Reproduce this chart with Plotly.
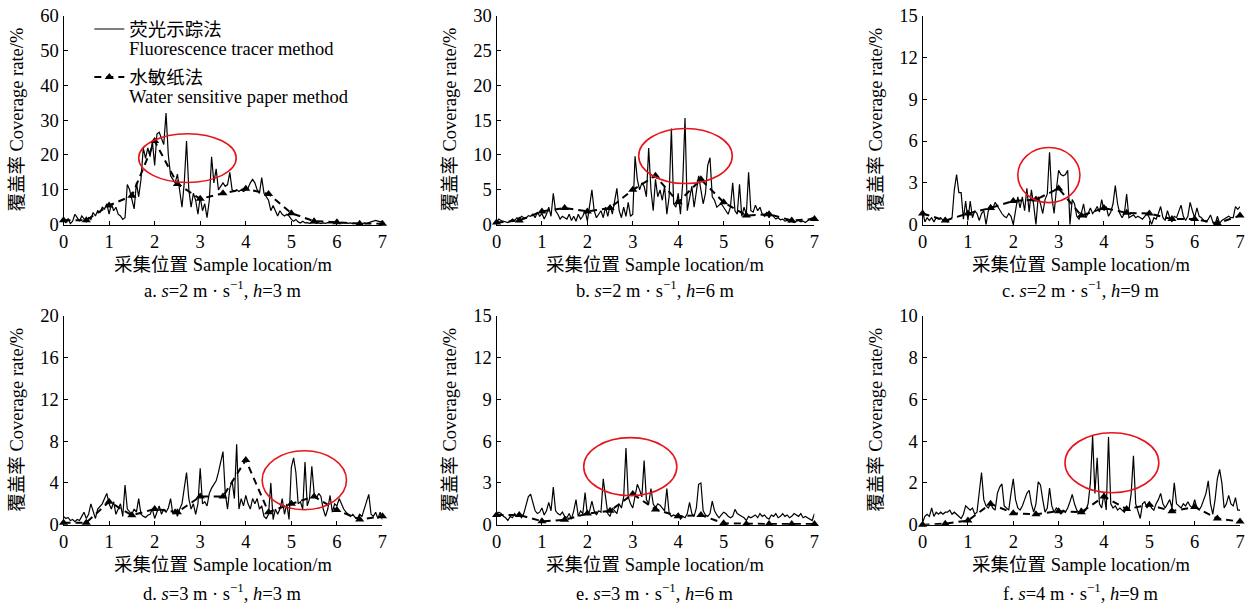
import numpy as np
import plotly.graph_objects as go

# ---------------- data ----------------
# fluorescence tracer sampling positions (every 0.05 m) and WSP positions (every 0.5 m)
loc_fluor = np.round(np.arange(0, 7.0001, 0.05), 2)
loc_wsp = [0, 0.5, 1.0, 1.5, 2.0, 2.5, 3.0, 3.5, 4.0, 4.5, 5.0, 5.5, 6.0, 6.5, 7.0]

fluor_a = [1.5, 0.5, 1.8, 0.3, 1.0, 3.0, 2.0, 1.0, 2.5, 1.5, 0.8, 2.0, 1.5, 3.5, 2.5, 4.0, 3.5, 5.0, 4.5, 6.0,
           3.0, 6.0, 4.0, 5.0, 3.0, 2.5, 1.5, 2.0, 11.5, 10.0, 7.0, 4.5, 12.0, 8.0, 13.0, 22.0, 19.0, 22.0, 19.5, 24.0,
           17.0, 26.0, 26.5, 25.0, 23.0, 32.0, 20.0, 14.0, 13.0, 12.0, 14.5, 10.0, 5.0, 12.0, 24.0, 10.0, 5.0, 9.0, 7.0, 3.0,
           8.0, 4.0, 6.0, 2.0, 7.0, 19.5, 12.0, 16.0, 10.0, 11.0, 12.0, 11.0, 11.5, 15.0, 10.0, 9.5, 10.0, 9.5, 10.0, 9.5,
           10.0, 10.5, 12.0, 13.0, 12.0, 10.0, 9.0, 13.5, 9.0, 8.0, 7.0, 4.0, 5.5, 4.0, 2.5, 4.0, 3.0, 2.5, 3.0, 2.5,
           1.5, 1.0, 1.5, 0.8, 0.5, 1.0, 0.5, 0.6, 0.4, 0.5, 0.6, 0.4, 0.5, 0.3, 0.5, 0.4, 0.6, 0.5, 0.4, 0.5,
           0.6, 0.5, 0.4, 0.5, 0.6, 0.4, 0.5, 0.3, 0.4, 0.5, 0.4, 0.3, 0.5, 0.4, 0.6, 0.8, 1.0, 1.2, 1.0, 0.8,
           1.0]
wsp_a = [1.3, 1.3, 5.5, 8.3, 24.0, 11.7, 7.4, 9.0, 10.3, 8.8, 3.3, 1.0, 0.7, 0.3, 0.3]

fluor_b = [0.3, 0.8, 0.6, 0.5, 0.4, 0.3, 0.5, 0.8, 0.6, 1.0, 0.8, 1.2, 1.0, 0.9, 1.3, 1.2, 1.5, 1.0, 1.8, 1.2,
           1.6, 0.8, 1.5, 2.5, 1.2, 4.5, 2.0, 1.5, 0.8, 1.2, 1.0, 0.8, 1.5, 0.6, 1.2, 0.5, 1.5, 0.8, 1.2, 2.0,
           0.5, 2.5, 5.0, 2.0, 1.0, 1.5, 2.0, 1.0, 2.5, 1.2, 2.8, 1.5, 3.5, 5.2, 2.0, 1.0, 2.5, 1.2, 3.2, 1.2,
           1.5, 9.8, 6.5, 5.0, 6.0, 5.5, 4.0, 11.0, 5.0, 2.0, 6.5, 4.0, 5.0, 3.5, 5.5, 1.5, 4.0, 13.8, 3.0, 2.5,
           4.5, 1.5, 6.0, 15.3, 2.0, 4.0, 5.5, 2.5, 4.5, 7.0, 5.0, 3.0, 4.5, 8.5, 9.6, 4.0, 3.5, 2.5, 2.8, 3.0,
           2.5, 2.0, 1.5, 2.5, 6.0, 2.0, 1.5, 5.8, 1.2, 2.5, 1.5, 7.5, 2.0, 1.8, 2.8, 2.0, 2.5, 1.5, 1.2, 1.8,
           1.0, 1.5, 1.2, 0.8, 1.0, 0.7, 0.8, 0.5, 0.6, 0.4, 0.5, 0.3, 0.5, 0.6, 0.4, 0.5, 0.3, 0.6, 0.8, 1.0,
           0.5]
wsp_b = [0.3, 0.6, 1.9, 2.4, 1.9, 2.4, 5.0, 7.0, 3.2, 6.5, 3.2, 1.3, 1.5, 0.6, 0.8]

fluor_c = [1.0, 0.2, 0.5, 0.3, 0.5, 0.2, 0.5, 0.4, 0.5, 0.3, 0.5, 0.2, 0.4, 0.5, 2.5, 3.6, 2.3, 2.3, 0.4, 1.7,
           0.3, 1.7, 0.5, 1.0, 0.8, 0.3, 0.8, 1.0, 0.0, 1.0, 1.4, 1.2, 1.6, 1.3, 1.0, 0.8, 0.6, 0.5, 0.8, 0.6,
           0.0, 1.0, 2.0, 1.2, 2.0, 1.0, 2.6, 0.9, 2.5, 1.4, 0.0, 2.0, 1.5, 0.8, 1.8, 2.2, 5.2, 2.0, 0.8, 2.5,
           3.9, 3.6, 3.5, 3.6, 3.9, 0.0, 1.8, 1.5, 0.6, 0.4, 0.8, 1.5, 0.5, 0.8, 1.2, 0.8, 1.0, 1.3, 0.9, 1.8,
           1.0, 1.3, 0.6, 0.9, 1.5, 2.8, 1.5, 0.8, 0.5, 0.8, 2.2, 0.5, 0.6, 0.7, 0.5, 0.6, 0.5, 0.4, 0.6, 0.8,
           0.5, 0.0, 0.5, 0.4, 0.8, 1.3, 0.5, 0.3, 1.0, 0.5, 0.2, 0.6, 0.5, 0.9, 1.4, 0.6, 0.3, 0.6, 1.6, 1.0,
           0.5, 1.2, 0.6, 0.5, 0.3, 0.2, 0.4, 0.7, 0.2, 0.0, 0.6, 0.1, 0.3, 0.4, 0.5, 0.6, 0.5, 0.5, 1.3, 1.1,
           1.3]
wsp_c = [0.8, 0.3, 0.8, 1.2, 1.7, 1.8, 2.6, 0.65, 1.2, 0.85, 0.8, 0.4, 0.4, 0.1, 0.65]

fluor_d = [0.8, 0.6, 0.7, 0.4, 0.5, 0.3, 0.5, 0.4, 0.8, 1.2, 0.6, 1.0, 2.0, 1.2, 0.6, 1.5, 1.8, 2.0, 2.5, 3.0,
           2.0, 1.5, 2.2, 1.0, 1.5, 2.0, 0.8, 3.8, 1.5, 1.2, 1.0, 1.5, 1.2, 2.5, 1.0, 0.8, 0.7, 0.9, 1.0, 1.5,
           0.6, 1.2, 1.8, 1.0, 1.5, 1.2, 1.6, 2.5, 1.0, 1.5, 0.8, 1.5, 2.0, 3.5, 5.0, 2.5, 1.5, 2.0, 1.0, 2.0,
           5.4, 2.0, 2.2, 1.8, 3.0, 3.5, 3.8, 4.2, 5.0, 6.2, 7.0, 3.0, 1.5, 3.5, 4.2, 2.5, 7.7, 1.5, 2.5, 1.8,
           2.8, 2.0, 1.5, 2.5, 2.0, 2.5, 1.5, 1.8, 0.8, 0.6, 1.0, 4.0, 0.5, 1.5, 1.0, 1.5, 2.5, 1.0, 2.0, 0.5,
           5.5, 6.4, 5.0, 2.0, 2.2, 1.5, 6.0, 1.8, 2.5, 5.6, 3.0, 2.5, 3.0, 2.7, 1.5, 0.8, 1.5, 2.8, 1.2, 2.0,
           1.8, 2.5, 2.0, 1.5, 1.2, 1.0, 0.8, 1.0, 0.7, 0.6, 1.0, 0.8, 1.5, 2.0, 2.9, 1.0, 0.8, 1.2, 0.6, 1.2,
           0.5]
wsp_d = [0.2, 0.2, 2.2, 0.9, 1.5, 1.2, 2.7, 2.7, 6.2, 1.2, 2.0, 2.7, 1.4, 0.5, 0.8]

fluor_e = [0.7, 0.9, 0.8, 0.6, 0.5, 0.3, 0.6, 0.5, 0.8, 0.6, 0.7, 0.5, 0.8, 1.5, 2.0, 2.2, 1.5, 1.0, 0.8, 0.9,
           1.2, 0.7, 1.0, 1.6, 1.0, 2.7, 1.0, 0.8, 0.7, 0.9, 0.6, 0.5, 0.8, 0.4, 1.0, 1.8, 0.6, 1.0, 0.8, 2.3,
           0.7, 1.0, 1.7, 1.0, 0.7, 1.0, 0.9, 3.3, 2.0, 0.8, 0.6, 1.2, 1.0, 0.8, 1.5, 1.2, 2.0, 5.5, 2.0, 1.5,
           1.2, 2.2, 2.9, 2.5, 2.0, 4.6, 1.8, 1.5, 2.6, 1.5, 1.2, 1.5, 1.4, 1.2, 1.0, 2.6, 0.8, 0.6, 0.7, 0.6,
           0.8, 0.4, 0.6, 0.5, 0.8, 1.6, 0.8, 0.6, 1.2, 2.9, 3.0, 1.0, 0.7, 0.6, 0.8, 1.7, 1.0, 0.7, 0.5, 0.7,
           0.9, 0.8, 0.6, 0.5, 0.6, 1.1, 0.8, 0.7, 0.6, 0.5, 0.3, 0.6, 0.5, 0.6, 0.7, 0.5, 0.8, 0.6, 0.7, 0.5,
           0.4, 0.7, 0.6, 0.8, 0.5, 0.6, 0.8, 0.6, 0.7, 0.5, 0.6, 0.8, 0.7, 0.6, 0.8, 0.5, 0.6, 0.5, 0.4, 0.3,
           0.8]
wsp_e = [0.7, 0.7, 0.25, 0.35, 0.8, 1.0, 2.2, 1.1, 0.6, 0.7, 0.1, 0.05, 0.05, 0.05, 0.05]

fluor_f = [0.1, 0.4, 0.5, 0.4, 0.8, 0.4, 0.6, 0.5, 0.6, 0.5, 0.6, 0.6, 0.7, 0.5, 0.6, 0.5, 0.4, 0.3, 0.5, 0.9,
           0.8, 0.7, 0.8, 0.5, 0.6, 1.5, 2.5, 1.2, 0.9, 0.8, 1.0, 0.8, 0.7, 1.5, 1.8, 1.95, 0.9, 0.8, 0.7, 1.5,
           2.2, 1.2, 0.8, 0.7, 0.9, 1.2, 1.5, 1.65, 1.0, 0.6, 1.0, 2.05, 1.9, 1.2, 0.6, 0.8, 1.75, 0.9, 0.6, 0.8,
           0.7, 0.5, 0.7, 0.6, 0.8, 1.1, 1.45, 1.0, 0.7, 0.6, 0.8, 0.6, 0.7, 1.0, 2.0, 4.25, 1.5, 3.2, 1.0, 0.8,
           1.5, 0.7, 4.2, 1.0, 0.8, 0.9, 0.7, 0.8, 0.7, 0.6, 0.8, 0.7, 1.5, 3.3, 1.0, 0.6, 0.3, 1.0, 1.1, 0.8,
           1.0, 0.8, 0.7, 1.0, 1.2, 1.5, 1.0, 0.8, 1.0, 1.2, 0.8, 2.0, 1.0, 0.9, 0.8, 1.0, 0.9, 1.1, 0.9, 0.8,
           1.2, 0.8, 0.7, 0.9, 1.2, 1.5, 2.1, 1.0, 0.5, 1.2, 2.2, 2.65, 2.0, 0.8, 1.0, 1.4, 1.0, 0.9, 1.3, 0.7,
           0.7]
wsp_f = [0.0, 0.05, 0.2, 1.0, 0.55, 0.5, 0.65, 0.6, 1.35, 0.75, 0.95, 0.65, 0.85, 0.3, 0.15]

y_max = [60, 30, 15, 20, 15, 10]
y_dtick = [10, 5, 3, 4, 3, 2]
x_ticks = [0, 1, 2, 3, 4, 5, 6, 7]

captions = ["a. <i>s</i>=2 m · s<sup>−1</sup>, <i>h</i>=3 m",
            "b. <i>s</i>=2 m · s<sup>−1</sup>, <i>h</i>=6 m",
            "c. <i>s</i>=2 m · s<sup>−1</sup>, <i>h</i>=9 m",
            "d. <i>s</i>=3 m · s<sup>−1</sup>, <i>h</i>=3 m",
            "e. <i>s</i>=3 m · s<sup>−1</sup>, <i>h</i>=6 m",
            "f. <i>s</i>=4 m · s<sup>−1</sup>, <i>h</i>=9 m"]

# highlighted regions (red ellipses) in data units: x0, x1, y0, y1
ellipses = [(1.65, 3.79, 12.1, 26.1),
            (3.13, 5.19, 5.9, 13.8),
            (2.10, 3.47, 1.58, 5.53),
            (4.36, 6.21, 1.44, 7.08),
            (1.92, 3.97, 2.08, 6.25),
            (3.14, 5.21, 1.53, 4.40)]

fluor_all = [fluor_a, fluor_b, fluor_c, fluor_d, fluor_e, fluor_f]
wsp_all = [wsp_a, wsp_b, wsp_c, wsp_d, wsp_e, wsp_f]

legend_cn = ["荧光示踪法", "水敏纸法"]
legend_en = ["Fluorescence tracer method", "Water sensitive paper method"]

# ---------------- layout ----------------
W, H = 1246, 606
FONT = "Liberation Serif, Times New Roman, Noto Sans CJK SC, serif"
FS = 18.5
x_dom = [(59 / W, 380.5 / W), (495.5 / W, 816 / W), (925 / W, 1245 / W)]
y_dom = [(1 - 222 / H, 1 - 5.7 / H), (1 - 532.3 / H, 1 - 316.1 / H)]
xtitle_shift = [-40, -40]
caption_shift = [-64, -67]

fig = go.Figure()
annotations = []
shapes = []

for i in range(6):
    r, c = divmod(i, 3)
    k = "" if i == 0 else str(i + 1)
    xa, ya = "x" + k, "y" + k
    fig.add_trace(go.Scatter(
        x=loc_fluor, y=fluor_all[i], mode="lines", xaxis=xa, yaxis=ya,
        line=dict(color="black", width=1.2), name=legend_cn[0],
        showlegend=(i == 0), legendgroup="f", cliponaxis=False))
    fig.add_trace(go.Scatter(
        x=loc_wsp, y=wsp_all[i], mode="lines+markers", xaxis=xa, yaxis=ya,
        line=dict(color="black", width=2, dash="7px,5px"),
        marker=dict(symbol="triangle-up", size=8, color="black"),
        name=legend_cn[1], showlegend=(i == 0), legendgroup="w", cliponaxis=False))

    axis_common = dict(showline=True, linecolor="black", linewidth=1.3,
                       ticks="inside", ticklen=4, tickwidth=1.2, tickcolor="black",
                       showgrid=False, zeroline=False,
                       tickfont=dict(family=FONT, size=FS, color="black"))
    fig.layout["xaxis" + k] = dict(domain=x_dom[c], range=[0, 7], tickvals=x_ticks,
                                    anchor=ya, **axis_common)
    fig.layout["yaxis" + k] = dict(domain=y_dom[r], range=[0, y_max[i]], dtick=y_dtick[i],
                                    tick0=0, anchor=xa, **axis_common)

    x0, x1, y0, y1 = ellipses[i]
    shapes.append(dict(type="circle", xref=xa, yref=ya, x0=x0, x1=x1, y0=y0, y1=y1,
                       line=dict(color="#e8141b", width=1.6)))

    annotations.append(dict(text="覆盖率 Coverage rate/%", textangle=-90,
                            xref=xa + " domain", yref=ya + " domain", x=0, y=0.5,
                            xshift=-46, showarrow=False, xanchor="center", yanchor="middle",
                            font=dict(family=FONT, size=FS, color="black")))
    annotations.append(dict(text="采集位置 Sample location/m",
                            xref=xa + " domain", yref=ya + " domain", x=0.5, y=0,
                            yshift=xtitle_shift[r], showarrow=False, xanchor="center",
                            yanchor="middle", font=dict(family=FONT, size=FS, color="black")))
    annotations.append(dict(text=captions[i],
                            xref=xa + " domain", yref=ya + " domain", x=0.5, y=0,
                            yshift=caption_shift[r], showarrow=False, xanchor="center",
                            yanchor="middle", font=dict(family=FONT, size=FS, color="black")))

# English second lines of the legend entries
for txt, ypx in zip(legend_en, [40.5, 90]):
    annotations.append(dict(text=txt, xref="paper", yref="paper", x=123 / W, y=1 - ypx / H,
                            xanchor="left", yanchor="middle", showarrow=False,
                            font=dict(family=FONT, size=FS, color="black")))

fig.update_layout(
    width=W, height=H, margin=dict(l=0, r=0, t=0, b=0),
    paper_bgcolor="white", plot_bgcolor="white",
    shapes=shapes, annotations=annotations,
    showlegend=True,
    legend=dict(x=85 / W, y=1 - 0.5 / H, xanchor="left", yanchor="top",
                bgcolor="rgba(0,0,0,0)", valign="middle", tracegroupgap=21,
                itemwidth=30,
                font=dict(family=FONT, size=FS, color="black")),
    hovermode=False,
)

fig.write_html("out.html",
               config={"displayModeBar": False},
               post_script="document.body.style.margin='0';document.body.style.padding='0';"
                           "document.documentElement.style.overflow='hidden';"
                           "document.body.style.overflow='hidden';")
